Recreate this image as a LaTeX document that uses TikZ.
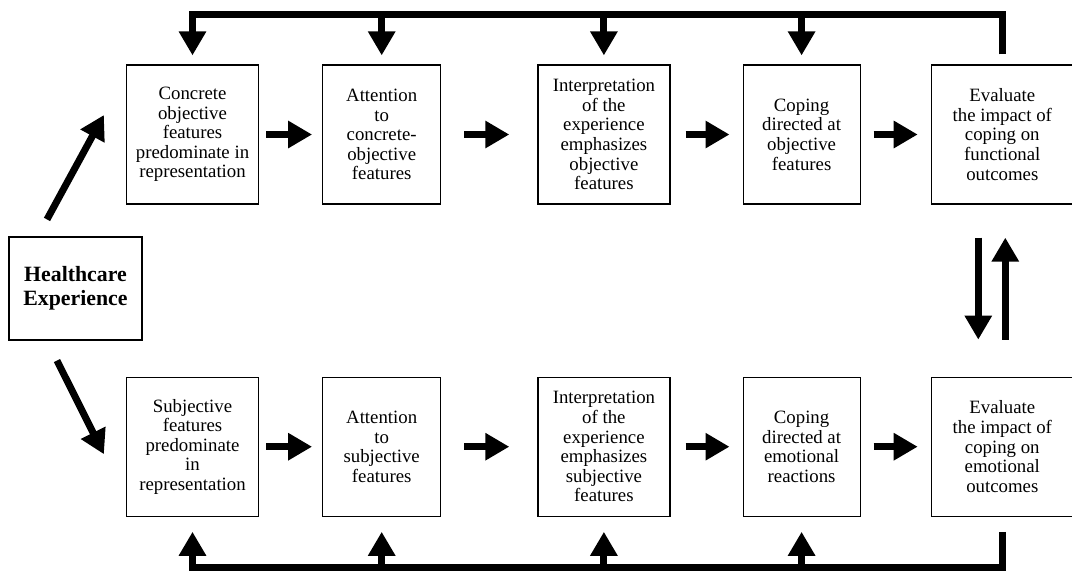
\documentclass[tikz,border=0pt]{standalone}
\usepackage{fontspec}
\setmainfont{Liberation Serif}
\usetikzlibrary{arrows.meta,positioning}

\begin{document}
\begin{tikzpicture}[
  x=0.5pt, y=-0.5pt,
  every node/.style={font=\fontsize{9.4}{9.8}\selectfont, align=center},
  box/.style={rectangle, draw, line width=0.6pt, minimum height=69.5pt, inner sep=1pt},
  startbox/.style={rectangle, draw, line width=0.6pt, minimum width=66.5pt, minimum height=51.5pt,
    font=\fontsize{10.9}{12}\selectfont\bfseries},
  arrow/.style={-{Triangle[width=13pt,length=12pt]}, line width=3.5pt}
]
\useasboundingbox (0,0) rectangle (1072,570);

% START
\node[startbox] (hc) at (75.5,288.5) {Healthcare\\Experience};

% OBJECTIVE PATH
\node[box, minimum width=66pt] (a1) at (192.5,134.5) {%
  Concrete\\objective\\features\\predominate in\\representation};
\node[box, minimum width=59pt, right=31.5pt of a1] (a2) {%
  Attention\\to\\concrete-\\objective\\features};
\node[box, minimum width=66pt, right=48pt of a2] (a3) {%
  Interpretation\\of the\\experience\\emphasizes\\objective\\features};
\node[box, minimum width=58.5pt, right=36pt of a3] (a4) {%
  Coping\\directed at\\objective\\features};
\node[box, minimum width=71pt, right=35pt of a4] (a5) {%
  Evaluate\\the impact of\\coping on\\functional\\outcomes};

% SUBJECTIVE PATH
\node[box, minimum width=66pt, below=86pt of a1] (b1) {%
  Subjective\\features\\predominate\\in\\representation};
\node[box, minimum width=59pt, below=86pt of a2] (b2) {%
  Attention\\to\\subjective\\features};
\node[box, minimum width=66pt, below=86pt of a3] (b3) {%
  Interpretation\\of the\\experience\\emphasizes\\subjective\\features};
\node[box, minimum width=58.5pt, below=86pt of a4] (b4) {%
  Coping\\directed at\\emotional\\reactions};
\node[box, minimum width=71pt, below=86pt of a5] (b5) {%
  Evaluate\\the impact of\\coping on\\emotional\\outcomes};

% ENTRY ARROWS
\draw[arrow] ([xshift=-14.25pt,yshift=8.5pt]hc.north) -- ([xshift=-11pt,yshift=9.75pt]a1.west);
\draw[arrow] ([xshift=-9.25pt,yshift=-10pt]hc.south) -- ([xshift=-11pt,yshift=-3.75pt]b1.west);

% STEP ARROWS
\draw[arrow, shorten <=3.5pt, shorten >=5pt] (a1) -- (a2);
\draw[arrow, shorten <=11.5pt, shorten >=14pt] (a2) -- (a3);
\draw[arrow, shorten <=7.5pt, shorten >=6.5pt] (a3) -- (a4);
\draw[arrow, shorten <=6.5pt, shorten >=6.5pt] (a4) -- (a5);
\draw[arrow, shorten <=3.5pt, shorten >=5pt] (b1) -- (b2);
\draw[arrow, shorten <=11.5pt, shorten >=14pt] (b2) -- (b3);
\draw[arrow, shorten <=7.5pt, shorten >=6.5pt] (b3) -- (b4);
\draw[arrow, shorten <=6.5pt, shorten >=6.5pt] (b4) -- (b5);

% BETWEEN OUTCOMES
\draw[arrow, shorten <=16.5pt, shorten >=18.5pt] ([xshift=-12pt]a5.south) -- ([xshift=-12pt]b5.north);
\draw[arrow, shorten <=18.5pt, shorten >=16.5pt] ([xshift=1.5pt]b5.north) -- ([xshift=1.5pt]a5.south);

% FEEDBACK LOOPS
\coordinate[above=25pt of a5.north] (fbtop);
\coordinate[below=25.5pt of b5.south] (fbbot);
\draw[arrow, shorten <=5pt, shorten >=4.5pt] (a5.north) |- (a1.north |- fbtop) -- (a1.north);
\foreach \n in {a2,a3,a4}
  \draw[arrow, shorten >=4.5pt] (\n.north |- fbtop) -- (\n.north);
\draw[arrow, shorten <=7.5pt, shorten >=7.5pt] (b5.south) |- (b1.south |- fbbot) -- (b1.south);
\foreach \n in {b2,b3,b4}
  \draw[arrow, shorten >=7.5pt] (\n.south |- fbbot) -- (\n.south);

\end{tikzpicture}
\end{document}
